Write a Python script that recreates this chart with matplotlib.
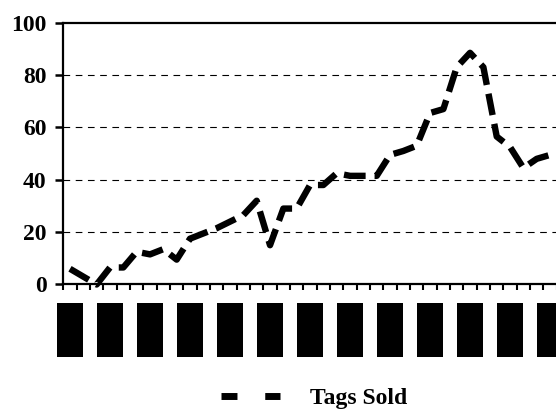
import matplotlib
matplotlib.use("Agg")
import matplotlib.pyplot as plt
from matplotlib.lines import Line2D
from matplotlib.patches import Rectangle
from matplotlib.transforms import blended_transform_factory

# weekly tag sales, one value per category slot
tags_sold = [6, 3, 0, 6.5, 6.5, 12.5, 11.5, 13.5, 9.5, 17.5,
             19.5, 21.5, 24, 26.5, 32, 15, 29, 29, 38, 38,
             42.5, 41.5, 41.5, 41.5, 49.5, 51, 53, 65.5, 67, 83,
             88.5, 83, 56.5, 52.5, 44.5, 48, 49.5, 50]
categories = list(range(len(tags_sold)))
labelled = categories[::3]          # category slots that carry a label block
y_ticks = [0, 20, 40, 60, 80, 100]

plt.rcParams["font.family"] = ["Liberation Serif", "DejaVu Serif"]
plt.rcParams["font.weight"] = "bold"

fig = plt.figure(figsize=(5.56, 4.11), dpi=100)
ax = fig.add_axes([0.1139, 0.3078, 0.9114, 0.637])

ax.plot(categories, tags_sold, color="black", lw=4.6,
        dashes=(3.4, 1.4), dash_capstyle="butt", solid_joinstyle="miter",
        clip_on=False, zorder=3)

ax.set_xlim(-0.5, len(categories) - 0.5)
ax.set_ylim(0, 100)
ax.set_yticks(y_ticks)
ax.set_yticklabels([str(v) for v in y_ticks], fontsize=17, fontweight="bold")

# category boundaries get the tick marks, labels sit between them
ax.set_xticks([c - 0.5 for c in categories] + [len(categories) - 0.5])
ax.set_xticklabels([])
ax.tick_params(axis="x", direction="out", length=4.5, width=1.5, color="black")
ax.tick_params(axis="y", direction="out", length=6, width=1.8, pad=6,
               color="black")

for y in y_ticks[1:-1]:
    ax.axhline(y, color="black", lw=0.8, dashes=(6, 5), zorder=1)

for side in ("left", "bottom", "top"):
    ax.spines[side].set_linewidth(1.6)
ax.spines["right"].set_visible(False)

# solid label blocks under the axis
blend = blended_transform_factory(ax.transData, fig.transFigure)
for c in labelled:
    ax.add_patch(Rectangle((c - 1.0, 0.132), 2.0, 0.1314, transform=blend,
                           facecolor="black", edgecolor="none", clip_on=False))

handle = Line2D([], [], color="black", lw=5, dashes=(2.3, 4.0),
                dash_capstyle="butt")
fig.legend([handle], ["Tags Sold"], loc="center", bbox_to_anchor=(0.565, 0.03),
           frameon=False, handlelength=2.5, handletextpad=1.27, borderpad=0,
           prop={"family": "Liberation Serif", "weight": "bold", "size": 17})

fig.savefig("out.png", dpi=100)
